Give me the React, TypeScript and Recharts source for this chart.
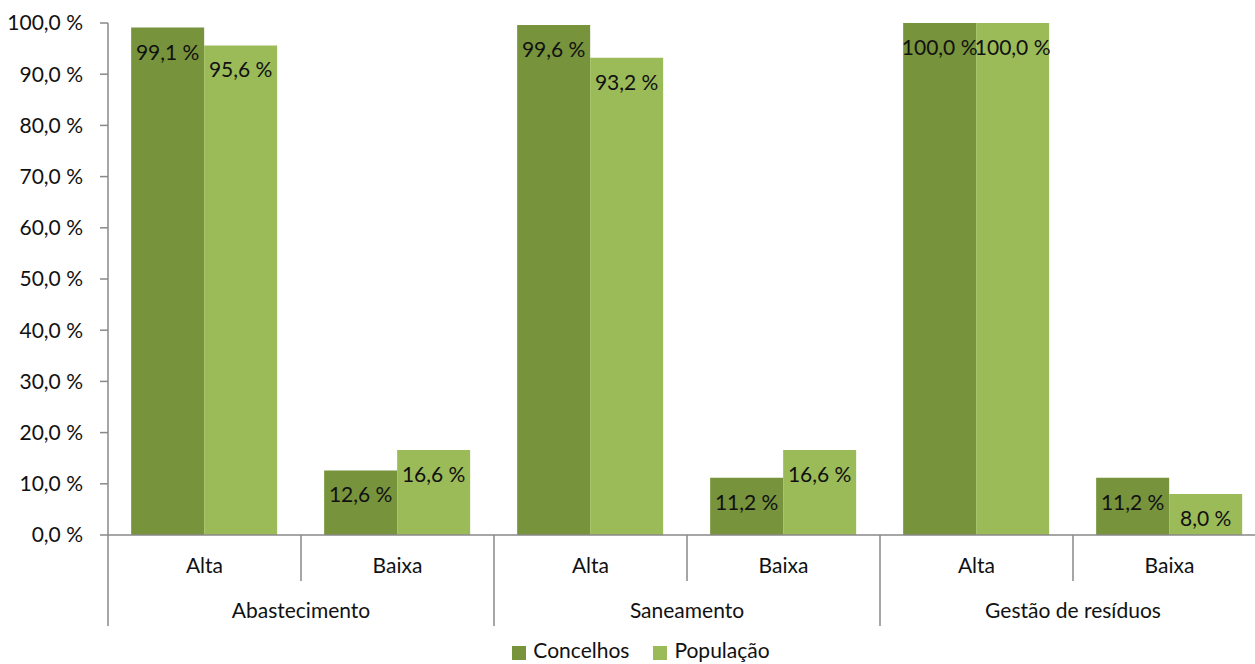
import React from 'react';
import { BarChart, Bar, XAxis, YAxis, Legend, LabelList } from 'recharts';

const subCategories = ['Alta', 'Baixa', 'Alta', 'Baixa', 'Alta', 'Baixa'];
const groups = ['Abastecimento', 'Saneamento', 'Gestão de resíduos'];
const concelhos = [99.1, 12.6, 99.6, 11.2, 100.0, 11.2];
const populacao = [95.6, 16.6, 93.2, 16.6, 100.0, 8.0];
const yTicks = [0, 10, 20, 30, 40, 50, 60, 70, 80, 90, 100];

const data = subCategories.map((sub, i) => ({
  sub,
  group: groups[Math.floor(i / 2)],
  concelhos: concelhos[i],
  populacao: populacao[i],
}));

const FONT = 'Lato, "Noto Sans", sans-serif';
const AXIS = '#898989';
const DARK = '#77933C';
const LIGHT = '#9BBB59';
const FS = 21;

const W = 1255;
const H = 664;

const pct = (v: number) => v.toFixed(1).replace('.', ',') + ' %';

// two-level category tick: Alta/Baixa on top, group name below, with separators
const GroupTick = (props: any) => {
  const { x, y, payload, index } = props;
  const half = payload?.offset || 96.5;
  const i = index ?? payload.index;
  const left = x - half;
  const isFirst = i % 2 === 0;
  return (
    <g>
      <line x1={left} y1={y} x2={left} y2={y + (isFirst ? 91 : 46)} stroke={AXIS} strokeWidth={1.5} />
      <text x={x} y={y + 29} textAnchor="middle" dominantBaseline="central" fontSize={FS} fill="#111" fontFamily={FONT}>
        {payload.value}
      </text>
      {isFirst && (
        <text x={x + half} y={y + 74} textAnchor="middle" dominantBaseline="central" fontSize={FS} fill="#111" fontFamily={FONT}>
          {data[i].group}
        </text>
      )}
    </g>
  );
};

export default function App() {
  return (
    <div style={{ position: 'absolute', left: 0, top: 0, width: W, height: H, background: '#fff', overflow: 'hidden' }}>
      <BarChart
        width={W}
        height={H}
        data={data}
        margin={{ top: 23, right: -11, left: 0, bottom: 14 }}
        barCategoryGap="12%"
        barGap={0}
      >
        <XAxis
          dataKey="sub"
          interval={0}
          height={90}
          tickSize={0}
          tickMargin={0}
          axisLine={{ stroke: AXIS, strokeWidth: 1.5 }}
          tickLine={false}
          tick={<GroupTick />}
        />
        <YAxis
          width={108}
          domain={[0, 100]}
          ticks={yTicks}
          interval={0}
          tickFormatter={pct}
          tickSize={8}
          tickMargin={17}
          axisLine={{ stroke: AXIS, strokeWidth: 1.5 }}
          tickLine={{ stroke: AXIS, strokeWidth: 1.5 }}
          tick={{ fontSize: FS, fill: '#111', fontFamily: FONT }}
        />
        <Legend
          verticalAlign="bottom"
          iconType="square"
          iconSize={14}
          wrapperStyle={{ top: 637, left: 20, fontFamily: FONT, fontSize: FS }}
          formatter={(v: string) => <span style={{ color: '#111', marginRight: 14, marginLeft: 3 }}>{v}</span>}
        />
        <Bar dataKey="concelhos" name="Concelhos" fill={DARK} isAnimationActive={false}>
          <LabelList dataKey="concelhos" position="insideTop" offset={17} formatter={pct} fill="#111" fontSize={FS} fontFamily={FONT} />
        </Bar>
        <Bar dataKey="populacao" name="População" fill={LIGHT} isAnimationActive={false}>
          <LabelList dataKey="populacao" position="insideTop" offset={17} formatter={pct} fill="#111" fontSize={FS} fontFamily={FONT} />
        </Bar>
      </BarChart>
    </div>
  );
}
